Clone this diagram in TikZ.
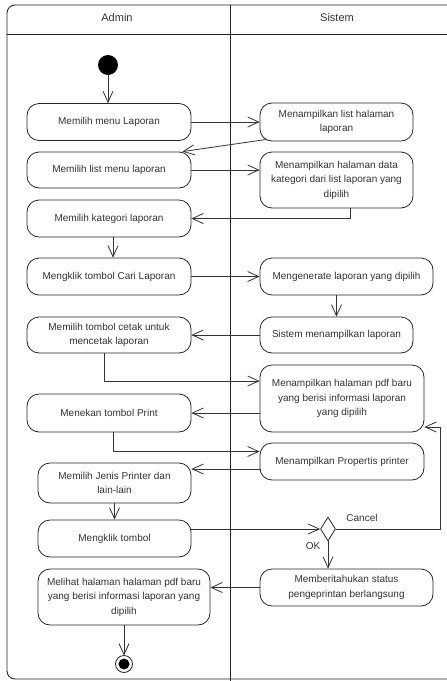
\documentclass[tikz,border=0pt]{standalone}
\usepackage{fontspec}
\setmainfont{Liberation Sans}
\usetikzlibrary{arrows.meta,shapes.geometric}
\begin{document}
\begin{tikzpicture}[x=1pt,y=-1pt,line join=round,line cap=round,
    >={Straight Barb[length=11pt,width=10pt]},font=\fontsize{10}{14.5}\selectfont,
    act/.style={draw=black!85,line width=0.8pt,rounded corners=12pt,align=center,
      minimum height=37pt,inner sep=2pt,text=black!80,fill=white},
    flow/.style={->,draw=black!80,line width=0.8pt}]
  \useasboundingbox (0,0) rectangle (447,681);
  \clip (0,0) rectangle (447,681);
  %%Swimlane
  \draw[black!85,line width=0.9pt,rounded corners=8pt] (7,5) rectangle (470,679);
  \draw[black!85,line width=0.9pt] (7,34) -- (470,34) (230,5) -- (230,685);
  \node[text=black!80,font=\fontsize{11}{13}\selectfont] (admin) at (117,18) {Admin};
  \node[text=black!80,font=\fontsize{11}{13}\selectfont] (sistem) at (337,18) {Sistem};
  %%Aktivitas Admin
  \node[act,minimum width=164pt] (a1) at (109,122) {Memilih menu Laporan};
  \node[act,minimum width=164pt,minimum height=36pt] (a2) at (109,170) {Memilih list menu laporan};
  \node[act,minimum width=164pt] (a3) at (109,218.5) {Memilih kategori laporan};
  \node[act,minimum width=164pt] (a4) at (109,276.5) {Mengklik tombol Cari Laporan};
  \node[act,minimum width=164pt,minimum height=36pt] (a5) at (109,335) {Memilih tombol cetak untuk\\mencetak laporan};
  \node[act,minimum width=164pt,minimum height=38pt] (a6) at (109,413) {Menekan tombol Print};
  \node[act,minimum width=153pt,minimum height=40pt] (a7) at (114.5,483) {Memilih Jenis Printer dan\\lain-lain};
  \node[act,minimum width=153pt] (a8) at (114.5,538.5) {Mengklik tombol};
  \node[act,minimum width=172pt,minimum height=56pt] (a9) at (124,597) {Melihat halaman halaman pdf baru\\yang berisi informasi laporan yang\\dipilih};
  %%Aktivitas Sistem
  \node[act,minimum width=153pt,minimum height=38pt] (s1) at (336.5,122) {Menampilkan list halaman\\laporan};
  \node[act,minimum width=153pt,minimum height=56pt] (s2) at (336.5,180) {Menampilkan halaman data\\kategori dari list laporan yang\\dipilih};
  \node[act,minimum width=173pt] (s3) at (346.5,276.5) {Mengenerate laporan yang dipilih};
  \node[act,minimum width=153pt,minimum height=36pt] (s4) at (336.5,335) {Sistem menampilkan laporan};
  \node[act,minimum width=164pt,minimum height=67pt] (s5) at (342,398.5) {Menampilkan halaman pdf baru\\yang berisi informasi laporan\\yang dipilih};
  \node[act,minimum width=164pt] (s6) at (342,461.5) {Menampilkan Propertis printer};
  \node[act,minimum width=173pt] (s7) at (346.5,587.5) {Memberitahukan status\\pengeprintan berlangsung};
  %%Awal, akhir, keputusan
  \fill[black] (108,65) circle (10) coordinate (mulai);
  \draw[black!85,line width=0.8pt,fill=white] (124,664) circle (8.5) coordinate (selesai);
  \fill[black] (selesai) circle (5.5);
  \node[diamond,draw=black!85,line width=0.8pt,fill=white,minimum width=15pt,minimum height=24pt,inner sep=0pt] (dec) at (328,529) {};
  %%Alur
  \draw[flow] (108,75) -- (a1.north -| 108,0);
  \draw[flow] (a1.east) -- (s1.west);
  \draw[flow] ([xshift=7pt,yshift=2pt]s1.south west) -- ([xshift=-9pt]a2.north east);
  \draw[flow] (a2.east) -- (a2.east -| s2.west);
  \draw[flow] ([xshift=14pt]s2.south) |- (a3.east);
  \draw[flow] ([xshift=4pt]a3.south) -- ([xshift=4pt]a4.north);
  \draw[flow] (a4.east) -- (s3.west);
  \draw[flow] (s3.south -| s4.north) -- (s4.north);
  \draw[flow] (s4.west) -- (a5.east);
  \draw[flow] ([xshift=-5pt]a5.south) |- ([yshift=17.5pt]s5.west);
  \draw[flow] (s5.west |- a6.east) -- (a6.east);
  \draw[flow] ([xshift=4pt]a6.south) |- ([yshift=10pt]s6.west);
  \draw[flow] ([yshift=-7.5pt]s6.west) -- ([yshift=-7.5pt]s6.west -| a7.east);
  \draw[flow] (a7.south) -- (a8.north);
  \draw[flow] (dec.west -| a8.east) -- (dec.west);
  \draw[flow] (dec.east) -- ++(104.5,0) |- ([yshift=-28.5pt]s5.east);
  \draw[flow] (dec.south) -- (dec.south |- s7.north);
  \draw[flow] (s7.west) -- (s7.west -| a9.east);
  \draw[flow] (a9.south) -- (selesai |- 0,655.5);
  %%Label
  \node[text=black!80] (cancel) at (362,518) {Cancel};
  \node[text=black!80] (ok) at (313,546) {OK};
\end{tikzpicture}
\end{document}
